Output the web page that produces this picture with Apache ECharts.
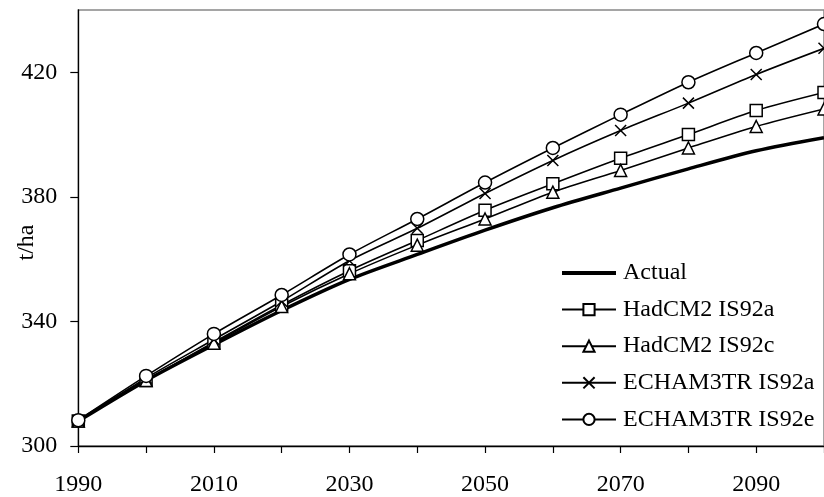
<!DOCTYPE html>
<html>
<head>
<meta charset="utf-8">
<script src="https://cdn.jsdelivr.net/npm/echarts@6/dist/echarts.min.js"></script>
<style>
html,body{margin:0;padding:0;background:#fff;}
#c{width:824px;height:497px;}
</style>
</head>
<body>
<div id="c"></div>
<script>
var years = [1990, 2000, 2010, 2020, 2030, 2040, 2050, 2060, 2070, 2080, 2090, 2100];
var actual     = [308, 321, 332.5, 343.5, 353.5, 361.5, 369.3, 376.5, 382.8, 389, 394.8, 399];
var hadcm2a    = [308, 321, 333.3, 345.3, 356.3, 366, 375.7, 384.2, 392.4, 400, 407.7, 413.5];
var hadcm2c    = [308, 321, 333, 344.8, 355.3, 364.5, 372.9, 381.5, 388.5, 395.7, 402.6, 408.2];
var echam3a    = [308, 321.8, 334.2, 346.5, 359.5, 369.9, 381.1, 391.7, 401.3, 410.1, 419.3, 427.7];
var echam3e    = [308.3, 322.5, 336, 348.5, 361.5, 372.9, 384.6, 395.7, 406.4, 416.8, 426.2, 435.5];
var seriesNames = ['Actual', 'HadCM2 IS92a', 'HadCM2 IS92c', 'ECHAM3TR IS92a', 'ECHAM3TR IS92e'];
var xTickValues = [1990, 2000, 2010, 2020, 2030, 2040, 2050, 2060, 2070, 2080, 2090, 2100];
var xLabelValues = [1990, 2010, 2030, 2050, 2070, 2090];
var yTickValues = [300, 340, 380, 420];
var yAxisTitle = 't/ha';

function pairs(vals) { return years.map(function (y, i) { return [y, vals[i]]; }); }

var FONT = 'Liberation Serif';
var FS = 24;
var crossPath = 'path://M0,0L10,10M10,0L0,10';

function mk(name, vals, symbol, size, width) {
  return {
    name: name, type: 'line', data: pairs(vals), smooth: 0.3,
    symbol: symbol, symbolSize: size, showSymbol: symbol !== 'none',
    lineStyle: { color: '#000', width: width },
    itemStyle: { color: '#fff', borderColor: '#000', borderWidth: 1.5 },
    emphasis: { disabled: true },
    z: 2
  };
}

var chart = echarts.init(document.getElementById('c'), null, { renderer: 'canvas' });
chart.setOption({
  animation: false,
  backgroundColor: '#fff',
  textStyle: { fontFamily: FONT, color: '#000' },
  grid: { left: 78.3, right: -7, top: 10, bottom: 50.3, show: true, borderColor: '#888', borderWidth: 1.5, backgroundColor: 'transparent' },
  xAxis: {
    type: 'value', min: 1990, max: 2100, interval: 10,
    axisLine: { show: true, onZero: false, lineStyle: { color: '#000', width: 1.3 } },
    axisTick: { show: true, inside: false, length: 7, lineStyle: { color: '#000', width: 1.2 }, customValues: xTickValues },
    axisLabel: { customValues: xLabelValues, formatter: function (v) { return String(v); }, margin: 27, fontFamily: FONT, fontSize: FS, color: '#000' },
    splitLine: { show: false }
  },
  yAxis: {
    type: 'value', min: 300, max: 440, interval: 20,
    axisLine: { show: true, lineStyle: { color: '#000', width: 1.3 } },
    axisTick: { show: true, inside: false, length: 8, lineStyle: { color: '#000', width: 1.2 }, customValues: yTickValues },
    axisLabel: { customValues: yTickValues, formatter: function (v) { return String(v); }, margin: 21, fontFamily: FONT, fontSize: FS, color: '#000' },
    splitLine: { show: false }
  },
  graphic: [{
    type: 'text', x: 27, y: 242.5, rotation: Math.PI / 2,
    style: { text: yAxisTitle, font: FS + 'px "Liberation Serif"', fill: '#000', align: 'center', verticalAlign: 'middle' }
  }],
  legend: {
    orient: 'vertical', left: 561, top: 261, padding: 0, itemWidth: 54, itemHeight: 14, itemGap: 12.6,
    data: [
      { name: seriesNames[0], icon: 'path://M0,0L54,0L54,4L0,4Z', itemStyle: { color: '#000', borderWidth: 0 } },
      seriesNames[1], seriesNames[2], seriesNames[3], seriesNames[4]
    ],
    textStyle: { fontFamily: FONT, fontSize: FS, color: '#000', lineHeight: 24, padding: [0, 0, 0, 2] }
  },
  series: [
    mk(seriesNames[0], actual, 'none', 0, 3.5),
    mk(seriesNames[1], hadcm2a, 'rect', 12, 1.6),
    mk(seriesNames[2], hadcm2c, 'triangle', 12, 1.6),
    mk(seriesNames[3], echam3a, crossPath, 11, 1.6),
    mk(seriesNames[4], echam3e, 'circle', 13, 1.6)
  ]
});
</script>
</body>
</html>
